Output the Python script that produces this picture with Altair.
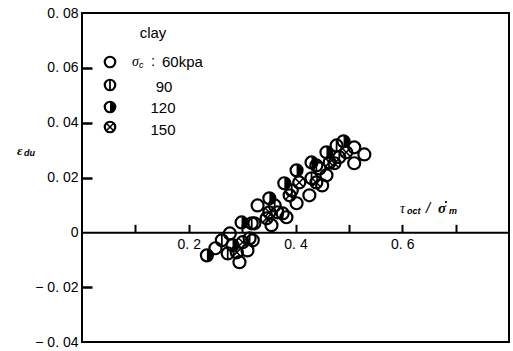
import altair as alt
import pandas as pd

# ---- data (tau_oct / sigma'_m, eps_du) ----
x_60 = [0.250, 0.277, 0.295, 0.310, 0.320, 0.323, 0.329, 0.366, 0.383, 0.355,
        0.402, 0.426, 0.450, 0.510, 0.529, 0.510, 0.445, 0.458]
y_60 = [-0.0058, -0.0004, -0.0109, -0.0066, -0.0029, 0.0033, 0.0098, 0.0073, 0.0055, 0.0026,
        0.0106, 0.0135, 0.0171, 0.0310, 0.0284, 0.0252, 0.0233, 0.0208]
x_90 = [0.262, 0.273, 0.361, 0.376, 0.318, 0.393, 0.430, 0.439, 0.482, 0.477, 0.314]
y_90 = [-0.0029, -0.0077, 0.0098, 0.0069, 0.0033, 0.0153, 0.0197, 0.0244, 0.0274, 0.0317, -0.0022]
x_120 = [0.234, 0.282, 0.299, 0.351, 0.379, 0.402, 0.430, 0.458, 0.490]
y_120 = [-0.0084, -0.0047, 0.0036, 0.0124, 0.0179, 0.0226, 0.0255, 0.0292, 0.0332]
x_150 = [0.290, 0.301, 0.351, 0.346, 0.389, 0.407, 0.439, 0.464, 0.495, 0.473]
y_150 = [-0.0073, -0.0036, 0.0073, 0.0051, 0.0135, 0.0182, 0.0182, 0.0255, 0.0292, 0.0252]

x_tick_values = [0.1, 0.2, 0.3, 0.4, 0.5, 0.6, 0.7]
x_label_values = [0.2, 0.4, 0.6]
x_label_texts = ["0. 2", "0. 4", "0. 6"]
y_tick_values = [-0.02, 0.02, 0.04, 0.06]
y_label_values = [-0.04, -0.02, 0.0, 0.02, 0.04, 0.06, 0.08]
y_label_texts = ["\u2212 0. 04", "\u2212 0. 02", "0\u2002", "0. 02", "0. 04", "0. 06", "0. 08"]
legend_labels = ["60kpa", "90", "120", "150"]

W, H = 427, 329
XD = [0, 0.8]
YD = [-0.04, 0.08]
y0 = H * (YD[1] - 0) / (YD[1] - YD[0])

rows = []
for k, xs, ys in [(60, x_60, y_60), (90, x_90, y_90), (120, x_120, y_120), (150, x_150, y_150)]:
    for a, b in zip(xs, ys):
        rows.append({"x": a, "y": b, "kind": k})
df = pd.DataFrame(rows)

FONT = "Liberation Sans"
VLINE = "M0,-1L0,1"
HALF = "M0,-1A1,1 0 0,1 0,1Z"
CROSS = "M-0.7071,-0.7071L0.7071,0.7071M-0.7071,0.7071L0.7071,-0.7071"


def expr_map(values, texts):
    parts = []
    for v, t in zip(values, texts):
        parts.append(f"round(datum.value*1000)=={round(v*1000)} ? '{t}' : ")
    return "".join(parts) + "''"


xs_scale = alt.Scale(domain=XD, nice=False, zero=False)
ys_scale = alt.Scale(domain=YD, nice=False, zero=False)

tick_x_axis = alt.Axis(orient="top", offset=-y0, values=x_tick_values, tickSize=8, tickWidth=2,
                       tickColor="black", domain=True, domainColor="black", domainWidth=2,
                       labels=False, grid=False, title=None)
tick_y_axis = alt.Axis(orient="right", offset=-W, values=y_tick_values, tickSize=10, tickWidth=2.5,
                       tickColor="black", domain=False, labels=False, grid=False, title=None)
lab_x_axis = alt.Axis(orient="bottom", offset=-(H - y0), values=x_label_values, ticks=False,
                      domain=False, grid=False, title=None, labelPadding=5,
                      labelExpr=expr_map(x_label_values, x_label_texts),
                      labelFont=FONT, labelFontSize=14, labelColor="black")
lab_y_axis = alt.Axis(orient="left", values=y_label_values, ticks=False, domain=False, grid=False,
                      title=None, labelPadding=4, labelExpr=expr_map(y_label_values, y_label_texts),
                      labelFont=FONT, labelFontSize=14, labelColor="black")


def xy(xaxis=None, yaxis=None):
    return dict(x=alt.X("x:Q", scale=xs_scale, axis=xaxis),
                y=alt.Y("y:Q", scale=ys_scale, axis=yaxis))


def glyph_layers(data, enc, kind, size, sw):
    out = [alt.Chart(data).mark_point(shape="circle", size=size, filled=False, color="black",
                                      strokeWidth=sw, opacity=1).encode(**enc(True))]
    if kind == 90:
        out.append(alt.Chart(data).mark_point(shape=VLINE, size=size, filled=False, color="black",
                                              strokeWidth=sw * 0.8, opacity=1).encode(**enc(False)))
    elif kind == 120:
        out.append(alt.Chart(data).mark_point(shape=HALF, size=size, filled=True, color="black",
                                              opacity=1).encode(**enc(False)))
    elif kind == 150:
        out.append(alt.Chart(data).mark_point(shape=CROSS, size=size, filled=False, color="black",
                                              strokeWidth=sw * 0.7, opacity=1).encode(**enc(False)))
    return out


layers = []
# axes holder layers
layers.append(alt.Chart(df).mark_point(opacity=0).encode(**xy(tick_x_axis, tick_y_axis)))
layers.append(alt.Chart(df).mark_point(opacity=0).encode(**xy(lab_x_axis, lab_y_axis)))

for k in [60, 90, 120, 150]:
    sub = df[df.kind == k]
    layers += glyph_layers(sub, lambda first: xy(None, None), k, 144, 2.2)

# legend
leg_y = [49, 72, 94, 114]
for k, yy in zip([60, 90, 120, 150], leg_y):
    one = pd.DataFrame({"kind": [k]})
    layers += glyph_layers(one, lambda first, yy=yy: dict(x=alt.value(28), y=alt.value(yy)), k, 110, 2.2)


def label(text, x, y, size, italic=False, bold=False, align="left", font=FONT):
    d = pd.DataFrame({"t": [text]})
    return alt.Chart(d).mark_text(font=font, fontSize=size, fontStyle="italic" if italic else "normal",
                                  fontWeight="bold" if bold else "normal", align=align,
                                  baseline="alphabetic", color="black").encode(
        text="t:N", x=alt.value(x), y=alt.value(y))


layers.append(label("clay", 71, 25, 15, align="center"))
layers.append(label("\u03c3", 50, 53, 14, italic=True, font="Liberation Serif"))
layers.append(label("c", 57, 55, 9, italic=True))
layers.append(label(":", 69, 53, 15))
layers.append(label(legend_labels[0], 80, 54, 15))
layers.append(label(legend_labels[1], 82, 79, 15, align="center"))
layers.append(label(legend_labels[2], 81, 100, 15, align="center"))
layers.append(label(legend_labels[3], 81, 122, 15, align="center"))

# y title
layers.append(label("\u03b5", -65, 142, 13, italic=True, bold=True, font="Liberation Serif"))
layers.append(label("du", -58, 143, 9, italic=True, bold=True))
# x title
layers.append(label("\u03c4", 318, 200, 14, italic=True, font="Liberation Serif"))
layers.append(label("oct", 325, 201, 9, italic=True, bold=True))
layers.append(label("/", 344, 200, 15, italic=True))
layers.append(label("\u03c3", 356, 200, 15, italic=True, bold=True, font="Liberation Serif"))
layers.append(alt.Chart(pd.DataFrame({"t": ["prime"]})).mark_point(
    shape="circle", filled=True, size=5, color="black", opacity=1).encode(
    x=alt.value(364), y=alt.value(189)))
layers.append(label("m", 367, 201, 9, italic=True, bold=True))

chart = alt.layer(*layers).resolve_axis(x="independent", y="independent").properties(
    width=W, height=H, autosize=alt.AutoSizeParams(type="none"),
    padding={"left": 82, "top": 13, "right": 4, "bottom": 9}, background="white"
).configure_view(stroke="black", strokeWidth=2).configure_axis(grid=False)

chart.save("out.html", embed_options={"renderer": "svg", "actions": False})
